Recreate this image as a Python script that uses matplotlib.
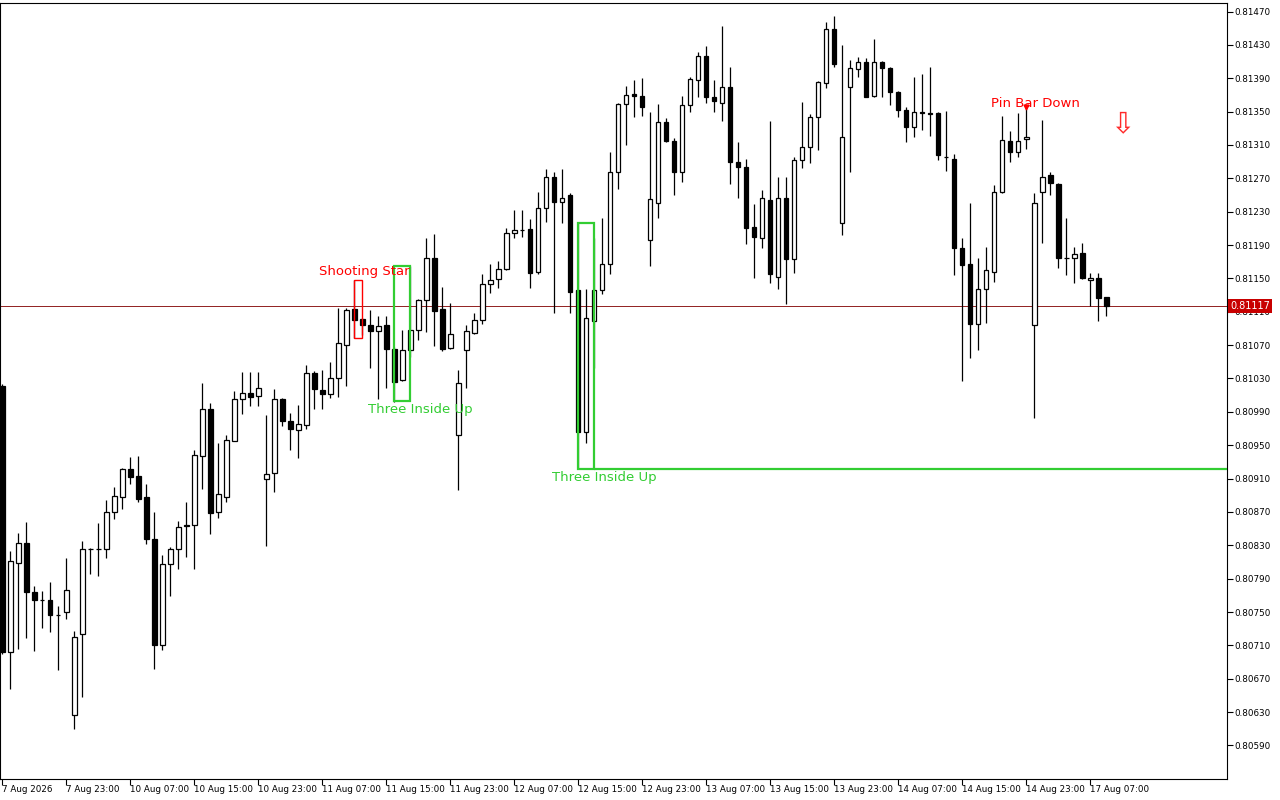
import matplotlib
matplotlib.use('Agg')
import matplotlib.pyplot as plt
import matplotlib.transforms as mtransforms
from matplotlib.patches import Rectangle
import numpy as np

plt.rcParams['font.family'] = ['DejaVu Sans']

# ---------------- data (hourly candles) ----------------
opens = [0.81021, 0.80702, 0.80809, 0.80833, 0.80774, 0.80765, 0.80765, 0.80747, 0.80750, 0.80626,
         0.80724, 0.80826, 0.80825, 0.80826, 0.80870, 0.80888, 0.80922, 0.80913, 0.80888, 0.80837,
         0.80711, 0.80808, 0.80826, 0.80854, 0.80854, 0.80937, 0.80993, 0.80870, 0.80888, 0.80955,
         0.81005, 0.81013, 0.81009, 0.80909, 0.80917, 0.81006, 0.80979, 0.80968, 0.80974, 0.81037,
         0.81016, 0.81011, 0.81030, 0.81070, 0.81113, 0.81101, 0.81094, 0.81087, 0.81094, 0.81065,
         0.81028, 0.81064, 0.81088, 0.81124, 0.81174, 0.81113, 0.81066, 0.80962, 0.81064, 0.81084,
         0.81100, 0.81143, 0.81149, 0.81161, 0.81204, 0.81208, 0.81209, 0.81158, 0.81234, 0.81271,
         0.81242, 0.81250, 0.81136, 0.80966, 0.81099, 0.81136, 0.81167, 0.81277, 0.81359, 0.81371,
         0.81369, 0.81196, 0.81240, 0.81338, 0.81315, 0.81278, 0.81358, 0.81388, 0.81417, 0.81367,
         0.81360, 0.81380, 0.81289, 0.81283, 0.81212, 0.81199, 0.81244, 0.81152, 0.81247, 0.81173,
         0.81292, 0.81308, 0.81344, 0.81384, 0.81449, 0.81216, 0.81379, 0.81401, 0.81410, 0.81369,
         0.81410, 0.81402, 0.81373, 0.81352, 0.81332, 0.81350, 0.81348, 0.81348, 0.81296, 0.81293,
         0.81186, 0.81167, 0.81095, 0.81137, 0.81158, 0.81253, 0.81315, 0.81302, 0.81317, 0.81094,
         0.81254, 0.81274, 0.81263, 0.81174, 0.81174, 0.81180, 0.81148, 0.81151, 0.81128]
highs = [0.81023, 0.80823, 0.80845, 0.80858, 0.80781, 0.80775, 0.80786, 0.80757, 0.80815, 0.80727,
         0.80835, 0.80827, 0.80857, 0.80884, 0.80900, 0.80923, 0.80936, 0.80937, 0.80904, 0.80870,
         0.80818, 0.80828, 0.80859, 0.80882, 0.80944, 0.81025, 0.81001, 0.80953, 0.80962, 0.81015,
         0.81038, 0.81038, 0.81038, 0.80986, 0.81017, 0.81007, 0.80989, 0.80998, 0.81046, 0.81039,
         0.81040, 0.81050, 0.81115, 0.81114, 0.81148, 0.81103, 0.81112, 0.81105, 0.81105, 0.81068,
         0.81088, 0.81165, 0.81125, 0.81198, 0.81203, 0.81140, 0.81121, 0.81040, 0.81094, 0.81108,
         0.81155, 0.81167, 0.81171, 0.81210, 0.81232, 0.81232, 0.81221, 0.81254, 0.81281, 0.81277,
         0.81281, 0.81252, 0.81216, 0.81137, 0.81198, 0.81223, 0.81302, 0.81360, 0.81381, 0.81388,
         0.81390, 0.81350, 0.81359, 0.81342, 0.81318, 0.81369, 0.81392, 0.81422, 0.81429, 0.81388,
         0.81453, 0.81404, 0.81313, 0.81293, 0.81239, 0.81256, 0.81339, 0.81272, 0.81271, 0.81296,
         0.81362, 0.81347, 0.81387, 0.81457, 0.81465, 0.81430, 0.81412, 0.81415, 0.81414, 0.81437,
         0.81411, 0.81403, 0.81375, 0.81356, 0.81391, 0.81395, 0.81404, 0.81350, 0.81351, 0.81299,
         0.81198, 0.81240, 0.81174, 0.81188, 0.81262, 0.81345, 0.81327, 0.81348, 0.81356, 0.81252,
         0.81340, 0.81277, 0.81264, 0.81223, 0.81188, 0.81192, 0.81156, 0.81156, 0.81128]
lows = [0.80700, 0.80658, 0.80706, 0.80719, 0.80703, 0.80731, 0.80726, 0.80680, 0.80742, 0.80610,
        0.80648, 0.80795, 0.80793, 0.80815, 0.80862, 0.80873, 0.80903, 0.80882, 0.80831, 0.80682,
        0.80704, 0.80769, 0.80802, 0.80816, 0.80802, 0.80897, 0.80844, 0.80863, 0.80882, 0.80955,
        0.80987, 0.80997, 0.80997, 0.80829, 0.80894, 0.80973, 0.80944, 0.80935, 0.80970, 0.80993,
        0.80994, 0.81007, 0.81008, 0.81021, 0.81079, 0.81082, 0.81043, 0.81006, 0.81018, 0.81002,
        0.81027, 0.81056, 0.81076, 0.81086, 0.81069, 0.81063, 0.81065, 0.80896, 0.81018, 0.81083,
        0.81095, 0.81132, 0.81138, 0.81160, 0.81198, 0.81200, 0.81139, 0.81155, 0.81218, 0.81109,
        0.81216, 0.81108, 0.80921, 0.80953, 0.81043, 0.81131, 0.81155, 0.81257, 0.81310, 0.81343,
        0.81345, 0.81165, 0.81222, 0.81314, 0.81250, 0.81265, 0.81349, 0.81367, 0.81360, 0.81350,
        0.81339, 0.81263, 0.81246, 0.81191, 0.81151, 0.81187, 0.81145, 0.81137, 0.81119, 0.81157,
        0.81282, 0.81288, 0.81304, 0.81378, 0.81403, 0.81202, 0.81277, 0.81391, 0.81367, 0.81368,
        0.81368, 0.81358, 0.81344, 0.81314, 0.81319, 0.81328, 0.81321, 0.81292, 0.81279, 0.81154,
        0.81027, 0.81054, 0.81064, 0.81096, 0.81146, 0.81252, 0.81289, 0.81295, 0.81305, 0.80983,
        0.81192, 0.81250, 0.81163, 0.81154, 0.81145, 0.81149, 0.81117, 0.81099, 0.81105]
closes = [0.80702, 0.80811, 0.80833, 0.80774, 0.80764, 0.80765, 0.80747, 0.80747, 0.80777, 0.80720,
          0.80826, 0.80825, 0.80826, 0.80870, 0.80889, 0.80922, 0.80912, 0.80885, 0.80838, 0.80710,
          0.80808, 0.80826, 0.80852, 0.80853, 0.80938, 0.80993, 0.80869, 0.80891, 0.80956, 0.81005,
          0.81013, 0.81008, 0.81019, 0.80916, 0.81005, 0.80979, 0.80969, 0.80975, 0.81037, 0.81017,
          0.81011, 0.81031, 0.81073, 0.81112, 0.81100, 0.81094, 0.81087, 0.81093, 0.81065, 0.81026,
          0.81064, 0.81088, 0.81124, 0.81174, 0.81111, 0.81065, 0.81083, 0.81024, 0.81087, 0.81100,
          0.81143, 0.81148, 0.81161, 0.81204, 0.81208, 0.81208, 0.81157, 0.81234, 0.81271, 0.81242,
          0.81247, 0.81134, 0.80966, 0.81103, 0.81136, 0.81167, 0.81277, 0.81359, 0.81370, 0.81369,
          0.81356, 0.81245, 0.81338, 0.81315, 0.81278, 0.81358, 0.81389, 0.81417, 0.81368, 0.81363,
          0.81380, 0.81289, 0.81283, 0.81211, 0.81200, 0.81247, 0.81155, 0.81247, 0.81173, 0.81292,
          0.81307, 0.81344, 0.81385, 0.81449, 0.81407, 0.81320, 0.81402, 0.81410, 0.81368, 0.81409,
          0.81402, 0.81374, 0.81352, 0.81332, 0.81350, 0.81348, 0.81347, 0.81298, 0.81295, 0.81187,
          0.81166, 0.81095, 0.81137, 0.81160, 0.81253, 0.81316, 0.81302, 0.81315, 0.81319, 0.81240,
          0.81272, 0.81264, 0.81174, 0.81174, 0.81179, 0.81150, 0.81151, 0.81126, 0.81117]

xtick_idx = [0, 8, 16, 24, 32, 40, 48, 56, 64, 72, 80, 88, 96, 104, 112, 120, 128, 136]
xtick_labels = ["7 Aug 2026", "7 Aug 23:00", "10 Aug 07:00", "10 Aug 15:00", "10 Aug 23:00",
                "11 Aug 07:00", "11 Aug 15:00", "11 Aug 23:00", "12 Aug 07:00", "12 Aug 15:00",
                "12 Aug 23:00", "13 Aug 07:00", "13 Aug 15:00", "13 Aug 23:00", "14 Aug 07:00",
                "14 Aug 15:00", "14 Aug 23:00", "17 Aug 07:00"]
ytick_vals = [0.80590, 0.80630, 0.80670, 0.80710, 0.80750, 0.80790, 0.80830, 0.80870, 0.80910,
              0.80950, 0.80990, 0.81030, 0.81070, 0.81110, 0.81150, 0.81190, 0.81230, 0.81270,
              0.81310, 0.81350, 0.81390, 0.81430, 0.81470]

current_price = 0.81117

# candlestick pattern boxes
pattern_names = ["Shooting Star", "Three Inside Up", "Three Inside Up"]
pattern_start = [44, 49, 72]
pattern_end = [45, 51, 74]
pattern_top = [0.81148, 0.81165, 0.81216]
pattern_bottom = [0.81079, 0.81003, 0.80921]
pattern_colors = ["#ff0000", "#32cd32", "#32cd32"]
label_x = [45.3, 52.2, 75.3]
label_y = [0.81158, 0.80993, 0.80911]

pin_bar_name = "Pin Bar Down"
pin_bar_idx = 128
signal_arrow_idx = 140
signal_arrow_price = 0.81335

# ---------------- figure ----------------
W, H = 1280, 800
fig = plt.figure(figsize=(W / 100, H / 100), dpi=100)
ax = fig.add_axes([0.0, 21 / H, 1227 / W, 776 / H])
ax.set_facecolor('white')
ax.set_xlim(-0.2875, 153.0875)
ax.set_ylim(0.805498, 0.814802)

n = len(opens)
x = np.arange(n)
o = np.array(opens); h = np.array(highs); l = np.array(lows); c = np.array(closes)

# bid line
ax.axhline(current_price, color='#8a1010', lw=0.65, zorder=1)

# wicks
ax.vlines(x, l, h, color='black', lw=0.9, zorder=2)
# bodies
body_colors = ['white' if cc >= oo else 'black' for oo, cc in zip(o, c)]
ax.bar(x, np.abs(c - o), bottom=np.minimum(o, c), width=0.55, color=body_colors,
       edgecolor='black', linewidth=0.9, zorder=3)

# pattern boxes
for name, s, e, top, bot, col, lx, ly in zip(pattern_names, pattern_start, pattern_end,
                                            pattern_top, pattern_bottom, pattern_colors,
                                            label_x, label_y):
    lw = 1.0 if col == "#ff0000" else 1.6
    ax.add_patch(Rectangle((s, bot), e - s, top - bot, fill=False, edgecolor=col,
                           lw=lw, zorder=4))
    ax.text(lx, ly, name, color=col, fontsize=9.5, ha='center', va='center', zorder=5)

# extension line of last Three Inside Up low
ax.hlines(pattern_bottom[2], pattern_end[2], ax.get_xlim()[1], color="#32cd32", lw=1.6, zorder=4)

# pin bar marker and label
ax.plot([pin_bar_idx], [highs[pin_bar_idx]], marker='v', color='#ff0000', markersize=3.5, zorder=6)
ax.text(129.2, 0.81360, pin_bar_name, color='#ff0000', fontsize=9.5, ha='center', va='center', zorder=5)

# sell arrow
ax.text(signal_arrow_idx, signal_arrow_price, '\u21e9', color='#ff2a2a', fontsize=21,
        ha='center', va='center', zorder=6)

# axes styling
for sp in ax.spines.values():
    sp.set_color('black')
    sp.set_linewidth(0.8)

ax.yaxis.tick_right()
ax.set_yticks(ytick_vals)
ax.set_yticklabels([f"{v:.5f}" for v in ytick_vals])
ax.tick_params(axis='y', direction='out', length=4, width=0.8, labelsize=6.3, pad=1.5,
               colors='black')
ax.set_xticks(xtick_idx)
ax.set_xticklabels(xtick_labels, ha='left')
ax.tick_params(axis='x', direction='out', length=4, width=0.8, labelsize=6.3, pad=0.5,
               colors='black')

# current price tag
trans = mtransforms.blended_transform_factory(ax.transAxes, ax.transData)
ax.text(1.0025, current_price, f"{current_price:.5f}", transform=trans, ha='left', va='center',
        color='white', fontsize=7, zorder=10, clip_on=False,
        bbox=dict(boxstyle='square,pad=0.2', fc='#c80000', ec='none'))

fig.savefig('out.png', dpi=100, facecolor='white')
